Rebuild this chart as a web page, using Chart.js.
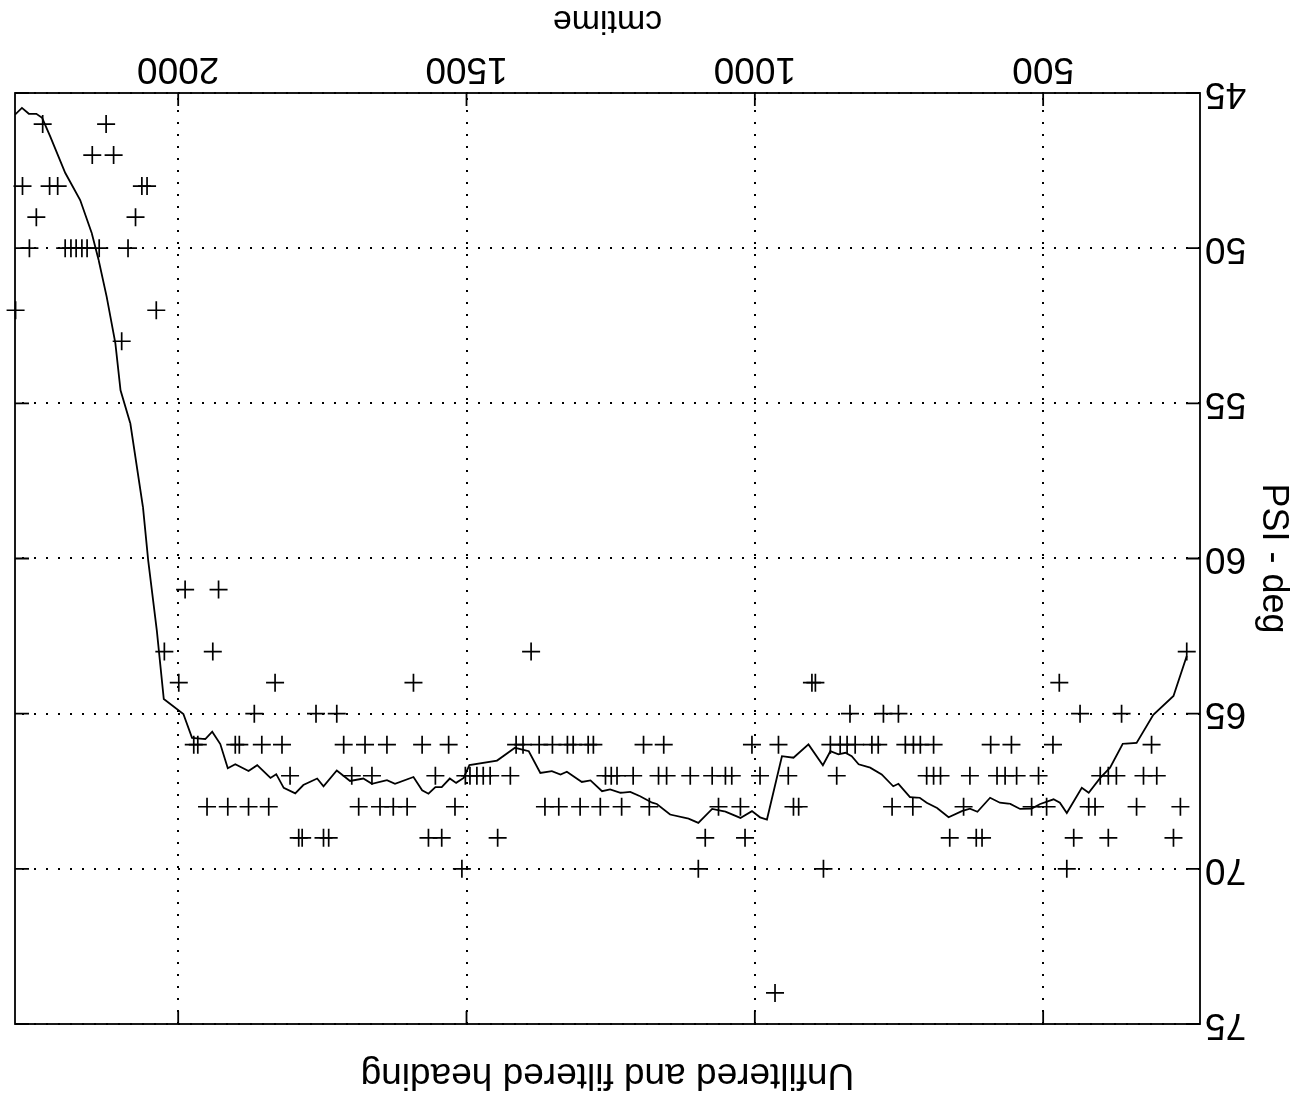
<!DOCTYPE html>
<html>
<head>
<meta charset="utf-8">
<title>Unfiltered and filtered heading</title>
<script src="https://cdn.jsdelivr.net/npm/chart.js@4.4.1/dist/chart.umd.min.js"></script>
<style>
  html, body { margin: 0; padding: 0; background: #fff; }
  /* the scanned plot is upside down, so the whole chart is turned over */
  #wrap { width: 1311px; height: 1098px; transform: rotate(180deg); }
</style>
</head>
<body>
<div id="wrap"><canvas id="chart-canvas" width="1311" height="1098"></canvas></div>
<script>
"use strict";

// axis setup
let timeMin = 228;
let timeMax = 2283;
let timeTicks = [500, 1000, 1500, 2000];
let psiTicks = [45, 50, 55, 60, 65, 70, 75];

// filtered heading (solid line)
let filtTime = [
  251, 274, 309, 338, 362, 384, 401, 421, 433, 459, 471, 482, 505, 520, 540, 557,
  575, 592, 614, 627, 641, 664, 684, 702, 714, 731, 751, 760, 780, 800, 820, 832,
  843, 855, 869, 882, 907, 933, 953, 979, 991, 1005, 1025, 1051, 1074, 1098, 1115, 1147,
  1170, 1178, 1199, 1216, 1233, 1251, 1265, 1285, 1300, 1326, 1337, 1352, 1372, 1392, 1416, 1447,
  1495, 1505, 1518, 1529, 1543, 1554, 1566, 1577, 1592, 1624, 1638, 1664, 1679, 1702, 1725, 1748,
  1759, 1783, 1797, 1817, 1830, 1840, 1863, 1878, 1901, 1914, 1927, 1941, 1953, 1976, 1991, 2025,
  2037, 2052, 2061, 2083, 2100, 2109, 2124, 2138, 2150, 2170, 2196, 2222, 2236, 2246, 2259, 2271, 2283
];
let filtPsi = [
  63.14, 64.43, 65.04, 65.94, 65.97, 66.74, 67.07, 67.55, 67.39, 68.20, 67.87, 67.76, 67.91, 68.06, 68.07, 67.91,
  67.87, 67.71, 68.16, 68.06, 68.14, 68.34, 68.04, 67.87, 67.71, 67.69, 67.26, 67.34, 66.96, 66.74, 66.63, 66.37,
  66.26, 66.31, 66.21, 66.66, 65.99, 66.42, 66.37, 68.41, 68.34, 68.14, 68.36, 68.16, 68.07, 68.52, 68.38, 68.25,
  67.91, 67.87, 67.66, 67.52, 67.55, 67.44, 67.50, 67.15, 67.20, 66.87, 66.96, 66.85, 66.91, 66.21, 66.10, 66.51,
  66.66, 67.07, 67.23, 67.09, 67.37, 67.37, 67.58, 67.47, 67.04, 67.26, 67.14, 67.26, 67.09, 67.17, 66.83, 67.34,
  67.09, 67.30, 67.57, 67.39, 66.95, 67.07, 66.66, 66.85, 66.63, 66.76, 65.98, 65.58, 65.82, 65.78, 65.01, 64.53,
  62.33, 60.07, 58.36, 55.65, 54.58, 53.06, 51.57, 50.38, 49.51, 48.45, 47.57, 46.40, 45.80, 45.67, 45.67, 45.48, 45.70
];

// unfiltered heading (+ marks), whole degrees
let rawTime = [
  2235, 2125,
  2149, 2112,
  2270, 2223, 2209, 2063, 2054,
  2246, 2074,
  2258, 2196, 2186, 2177, 2167, 2158, 2137, 2087,
  2282, 2038,
  2098,
  1988, 1930,
  2024, 1940, 1388, 251,
  1999, 1832, 1592, 901, 895, 472,
  1868, 1761, 1725, 835, 777, 751, 436, 364,
  1973, 1966, 1901, 1894, 1855, 1820, 1713, 1676, 1638, 1577, 1531, 1414, 1402, 1374, 1351, 1325,
  1315, 1289, 1280, 1193, 1158, 1005, 959, 869, 852, 840, 826, 797, 786, 739, 725, 713, 690, 591,
  555, 483, 312,
  1806, 1699, 1664, 1554, 1502, 1494, 1482, 1471, 1459, 1424, 1259, 1249, 1239, 1211, 1167, 1153,
  1112, 1074, 1051, 1040, 991, 942, 858, 702, 690, 678, 627, 580, 566, 546, 508, 401, 387, 373, 326, 303,
  1950, 1914, 1878, 1843, 1687, 1650, 1627, 1603, 1520, 1364, 1340, 1303, 1268, 1231, 1183, 1063,
  1025, 933, 924, 762, 726, 638, 520, 494, 421, 410, 338, 262,
  1791, 1785, 1748, 1739, 1566, 1543, 1446, 1086, 1017, 662, 616, 606, 447, 387, 274,
  1508, 1098, 881, 459,
  965
];
let rawPsi = [
  46, 46,
  47, 47,
  48, 48, 48, 48, 48,
  49, 49,
  50, 50, 50, 50, 50, 50, 50, 50,
  52, 52,
  53,
  61, 61,
  63, 63, 63, 63,
  64, 64, 64, 64, 64, 64,
  65, 65, 65, 65, 65, 65, 65, 65,
  66, 66, 66, 66, 66, 66, 66, 66, 66, 66, 66, 66, 66, 66, 66, 66,
  66, 66, 66, 66, 66, 66, 66, 66, 66, 66, 66, 66, 66, 66, 66, 66, 66, 66,
  66, 66, 66,
  67, 67, 67, 67, 67, 67, 67, 67, 67, 67, 67, 67, 67, 67, 67, 67,
  67, 67, 67, 67, 67, 67, 67, 67, 67, 67, 67, 67, 67, 67, 67, 67, 67, 67, 67, 67,
  68, 68, 68, 68, 68, 68, 68, 68, 68, 68, 68, 68, 68, 68, 68, 68,
  68, 68, 68, 68, 68, 68, 68, 68, 68, 68, 68, 68,
  69, 69, 69, 69, 69, 69, 69, 69, 69, 69, 69, 69, 69, 69, 69,
  70, 70, 70, 70,
  74
];

let fontFamily = "'Liberation Sans', Arial, Helvetica, sans-serif";

function toPoints(xs, ys) {
  let pts = [];
  for (let i = 0; i < xs.length; i++) {
    pts.push({ x: xs[i], y: ys[i] });
  }
  return pts;
}

// solid box round the plot plus short inward tick marks on all four sides
let frameTicks = {
  id: "frameTicks",
  afterDraw(chart) {
    let ctx = chart.ctx;
    let area = chart.chartArea;
    let xScale = chart.scales.x;
    let yScale = chart.scales.y;
    ctx.save();
    ctx.strokeStyle = "#000";
    ctx.lineWidth = 1.8;
    ctx.strokeRect(area.left, area.top, area.right - area.left, area.bottom - area.top);
    ctx.beginPath();
    for (let t of xScale.ticks) {
      let px = xScale.getPixelForValue(t.value);
      ctx.moveTo(px, area.bottom);
      ctx.lineTo(px, area.bottom - 13);
      ctx.moveTo(px, area.top);
      ctx.lineTo(px, area.top + 13);
    }
    for (let t of yScale.ticks) {
      let py = yScale.getPixelForValue(t.value);
      ctx.moveTo(area.left, py);
      ctx.lineTo(area.left + 14, py);
      ctx.moveTo(area.right, py);
      ctx.lineTo(area.right - 14, py);
    }
    ctx.stroke();
    ctx.restore();
  }
};

let ctx = document.getElementById("chart-canvas");
let chart = new Chart(ctx, {
  type: "scatter",
  data: {
    datasets: [
      {
        label: "filtered",
        data: toPoints(filtTime, filtPsi),
        showLine: true,
        borderColor: "#000",
        borderWidth: 1.8,
        pointRadius: 0,
        tension: 0,
      },
      {
        label: "unfiltered",
        data: toPoints(rawTime, rawPsi),
        showLine: false,
        pointStyle: "cross",
        pointRadius: 9,
        borderColor: "#000",
        backgroundColor: "#000",
        pointBorderWidth: 1.7,
        borderWidth: 1.7,
        clip: false,
      },
    ],
  },
  options: {
    responsive: false,
    animation: false,
    events: [],
    layout: { padding: { left: 0, right: 15, top: 0, bottom: 0 } },
    plugins: {
      legend: { display: false },
      tooltip: { enabled: false },
      title: {
        display: true,
        text: "Unfiltered and filtered heading",
        color: "#000",
        fullSize: false,
        font: { family: fontFamily, size: 37, weight: "normal", lineHeight: 1.2 },
        padding: { top: 2, bottom: 27.6 },
      },
    },
    scales: {
      x: {
        type: "linear",
        position: "bottom",
        min: timeMin,
        max: timeMax,
        afterBuildTicks(scale) {
          scale.ticks = timeTicks.map(v => ({ value: v }));
        },
        afterFit(scale) {
          scale.height = 93;
        },
        ticks: {
          color: "#000",
          padding: 3,
          font: { family: fontFamily, size: 37 },
          maxRotation: 0,
          callback: v => String(v),
        },
        grid: { color: "#000", lineWidth: 2, drawTicks: false },
        border: { display: false, dash: [2, 10] },
        title: {
          display: true,
          text: "cmtime",
          color: "#000",
          font: { family: fontFamily, size: 34, lineHeight: 1.2 },
          padding: { top: 0, bottom: 0 },
        },
      },
      y: {
        type: "linear",
        position: "left",
        min: 45,
        max: 75,
        afterBuildTicks(scale) {
          scale.ticks = psiTicks.map(v => ({ value: v }));
        },
        afterFit(scale) {
          scale.width = 111;
        },
        ticks: {
          color: "#000",
          padding: 5,
          font: { family: fontFamily, size: 37 },
        },
        grid: { color: "#000", lineWidth: 2, drawTicks: false },
        border: { display: false, dash: [2, 10] },
        title: {
          display: true,
          text: "PSI - deg",
          color: "#000",
          font: { family: fontFamily, size: 36, lineHeight: 1.2 },
          padding: { top: 16, bottom: 0 },
        },
      },
    },
  },
  plugins: [frameTicks],
});
</script>
</body>
</html>
